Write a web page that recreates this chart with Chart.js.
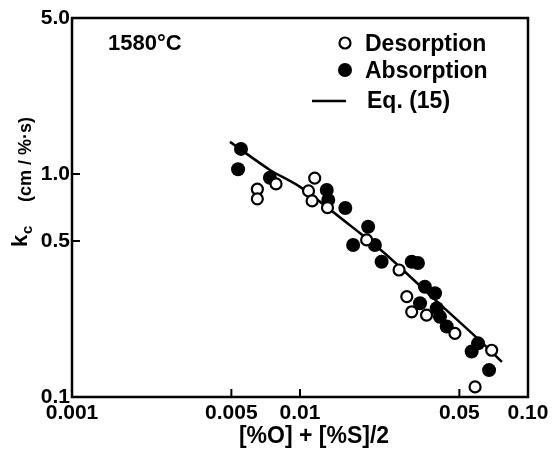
<!DOCTYPE html>
<html>
<head>
<meta charset="utf-8">
<script src="https://cdn.jsdelivr.net/npm/chart.js@4.4.0/dist/chart.umd.min.js"></script>
<style>
  html, body { margin: 0; padding: 0; background: #fff; }
  #wrap { width: 560px; height: 450px; }
</style>
</head>
<body>
<div id="wrap"><canvas id="kcChart" width="560" height="450"></canvas></div>
<script>
// tick positions and labels
const xTickValues = [0.001, 0.005, 0.01, 0.05, 0.1];
const xTickLabels = ['0.001', '0.005', '0.01', '0.05', '0.10'];
const yTickValues = [0.1, 0.5, 1, 5];
const yTickLabels = ['0.1', '0.5', '1.0', '5.0'];

// desorption (open circles)
const desorptionX = [0.0065, 0.0065, 0.00785, 0.0116, 0.0109, 0.0113, 0.0132, 0.0196, 0.0272, 0.0294, 0.0309, 0.0359, 0.0478, 0.0693, 0.0586];
const desorptionY = [0.854, 0.773, 0.902, 0.957, 0.839, 0.757, 0.706, 0.506, 0.371, 0.282, 0.241, 0.233, 0.193, 0.162, 0.111];

// absorption (filled circles)
const absorptionX = [0.00551, 0.00535, 0.00738, 0.0131, 0.0133, 0.0158, 0.0199, 0.0171, 0.0213, 0.0228, 0.0309, 0.0329, 0.0353, 0.0391, 0.0336, 0.0398, 0.0411, 0.0440, 0.0566, 0.0604, 0.0675];
const absorptionY = [1.295, 1.05, 0.962, 0.847, 0.765, 0.704, 0.580, 0.480, 0.480, 0.404, 0.404, 0.399, 0.312, 0.292, 0.263, 0.250, 0.229, 0.207, 0.160, 0.174, 0.132];

// Eq. (15) curve
const eqX = [0.00493, 0.00738, 0.01, 0.0183, 0.0248, 0.0383, 0.0597, 0.0769];
const eqY = [1.392, 1.042, 0.875, 0.543, 0.420, 0.278, 0.184, 0.1436];

const FONT = "'Liberation Sans', Arial, sans-serif";

function toPoints(xs, ys) {
    return xs.map((x, i) => ({ x: x, y: ys[i] }));
}

// frame, inward ticks, titles and legend
const decorations = {
    id: 'decorations',
    afterDraw(chart) {
        const ctx = chart.ctx;
        const area = chart.chartArea;
        const xs = chart.scales.x;
        const ys = chart.scales.y;
        ctx.save();
        ctx.strokeStyle = '#000';
        ctx.lineWidth = 2.5;
        ctx.strokeRect(area.left, area.top, area.right - area.left, area.bottom - area.top);

        ctx.lineWidth = 2;
        ctx.beginPath();
        xTickValues.forEach(v => {
            const px = xs.getPixelForValue(v);
            ctx.moveTo(px, area.bottom);
            ctx.lineTo(px, area.bottom - 8);
        });
        yTickValues.forEach(v => {
            const py = ys.getPixelForValue(v);
            ctx.moveTo(area.left, py);
            ctx.lineTo(area.left + 8, py);
        });
        ctx.stroke();

        ctx.fillStyle = '#000';
        ctx.textBaseline = 'alphabetic';

        // temperature label
        ctx.font = 'bold 22px ' + FONT;
        ctx.textAlign = 'left';
        ctx.fillText('1580°C', 108, 50);

        // x title
        ctx.font = 'bold 23px ' + FONT;
        ctx.textAlign = 'center';
        ctx.fillText('[%O] + [%S]/2', 314, 443);

        // y title, rotated
        ctx.save();
        ctx.translate(0, 247);
        ctx.rotate(-Math.PI / 2);
        ctx.textAlign = 'left';
        ctx.font = 'bold 22px ' + FONT;
        ctx.fillText('k', 0, 27);
        ctx.font = 'bold 15px ' + FONT;
        ctx.fillText('c', 13, 32);
        ctx.font = 'bold 18px ' + FONT;
        ctx.fillText('(cm / %·s)', 45, 31);
        ctx.restore();

        // legend
        const mx = 345;
        ctx.lineWidth = 2.2;
        ctx.beginPath();
        ctx.arc(mx, 43, 5.5, 0, Math.PI * 2);
        ctx.fillStyle = '#fff';
        ctx.fill();
        ctx.stroke();
        ctx.beginPath();
        ctx.arc(mx, 70, 7, 0, Math.PI * 2);
        ctx.fillStyle = '#000';
        ctx.fill();
        ctx.lineWidth = 2.5;
        ctx.beginPath();
        ctx.moveTo(312, 101);
        ctx.lineTo(346, 101);
        ctx.stroke();

        ctx.font = 'bold 23px ' + FONT;
        ctx.textAlign = 'left';
        ctx.fillText('Desorption', 365, 51);
        ctx.fillText('Absorption', 365, 78);
        ctx.fillText('Eq. (15)', 367, 108);
        ctx.restore();
    }
};

const ctx = document.getElementById('kcChart');

new Chart(ctx, {
    type: 'scatter',
    data: {
        datasets: [
            {
                label: 'Desorption',
                data: toPoints(desorptionX, desorptionY),
                pointStyle: 'circle',
                pointRadius: 5.5,
                pointBorderWidth: 2.2,
                pointBackgroundColor: '#fff',
                pointBorderColor: '#000'
            },
            {
                label: 'Absorption',
                data: toPoints(absorptionX, absorptionY),
                pointStyle: 'circle',
                pointRadius: 7,
                pointBorderWidth: 0,
                pointBackgroundColor: '#000',
                pointBorderColor: '#000'
            },
            {
                label: 'Eq. (15)',
                data: toPoints(eqX, eqY),
                showLine: true,
                pointRadius: 0,
                borderColor: '#000',
                borderWidth: 2.5,
                tension: 0.25
            }
        ]
    },
    options: {
        responsive: false,
        animation: false,
        layout: { padding: { left: 0, right: 32, top: 18, bottom: 0 } },
        plugins: {
            legend: { display: false },
            tooltip: { enabled: false }
        },
        scales: {
            x: {
                type: 'logarithmic',
                min: 0.001,
                max: 0.1,
                border: { display: false },
                grid: { display: false, drawTicks: false },
                afterFit: s => { s.height = 53; },
                afterBuildTicks: s => { s.ticks = xTickValues.map(v => ({ value: v })); },
                ticks: {
                    autoSkip: false,
                    maxRotation: 0,
                    padding: 4,
                    color: '#000',
                    font: { family: FONT, size: 21, weight: 'bold' },
                    callback: (v) => xTickLabels[xTickValues.indexOf(v)]
                }
            },
            y: {
                type: 'logarithmic',
                min: 0.1,
                max: 5,
                border: { display: false },
                grid: { display: false, drawTicks: false },
                afterFit: s => { s.width = 72; },
                afterBuildTicks: s => { s.ticks = yTickValues.map(v => ({ value: v })); },
                ticks: {
                    autoSkip: false,
                    padding: 2,
                    color: '#000',
                    font: { family: FONT, size: 21, weight: 'bold' },
                    callback: (v) => yTickLabels[yTickValues.indexOf(v)]
                }
            }
        }
    },
    plugins: [decorations]
});
</script>
</body>
</html>
